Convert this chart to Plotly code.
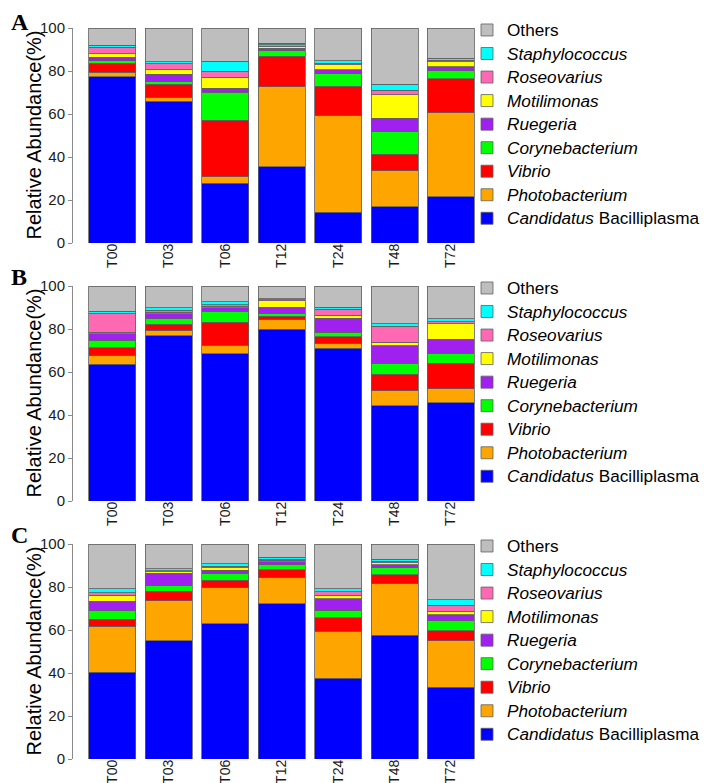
import plotly.graph_objects as go

samples = ["T00", "T03", "T06", "T12", "T24", "T48", "T72"]
y_ticks = [0, 20, 40, 60, 80, 100]

genera = ["Candidatus Bacilliplasma", "Photobacterium", "Vibrio", "Corynebacterium",
          "Ruegeria", "Motilimonas", "Roseovarius", "Staphylococcus", "Others"]
legend_labels = ["<i>Candidatus</i> Bacilliplasma", "<i>Photobacterium</i>", "<i>Vibrio</i>",
                 "<i>Corynebacterium</i>", "<i>Ruegeria</i>", "<i>Motilimonas</i>",
                 "<i>Roseovarius</i>", "<i>Staphylococcus</i>", "Others"]
colors = ["#0000FF", "#FFA500", "#FF0000", "#00FF00", "#A020F0",
          "#FFFF00", "#FF69B4", "#00FFFF", "#BEBEBE"]

# Panel A
candidatus_A = [77.4, 66.0, 27.8, 35.5, 14.4, 16.9, 21.4]
photobacterium_A = [2.0, 1.6, 3.0, 37.1, 44.8, 16.7, 39.2]
vibrio_A = [4.3, 6.2, 26.4, 14.2, 13.7, 7.7, 15.8]
corynebacterium_A = [1.1, 1.1, 12.9, 2.7, 5.9, 10.5, 3.7]
ruegeria_A = [1.7, 3.5, 1.9, 1.2, 1.8, 6.3, 1.8]
motilimonas_A = [1.5, 2.2, 5.1, 0.8, 2.3, 10.9, 2.3]
roseovarius_A = [3.0, 2.8, 2.7, 0.7, 0.8, 2.0, 0.9]
staphylococcus_A = [1.0, 0.8, 4.7, 0.8, 1.1, 2.8, 0.9]
others_A = [8.0, 15.8, 15.5, 7.0, 15.2, 26.2, 14.0]

# Panel B
candidatus_B = [63.7, 76.9, 68.5, 79.8, 71.0, 44.2, 45.6]
photobacterium_B = [3.9, 2.6, 3.9, 4.5, 2.2, 7.1, 6.6]
vibrio_B = [3.6, 2.7, 10.7, 1.7, 3.1, 7.6, 11.8]
corynebacterium_B = [3.5, 2.6, 5.1, 1.3, 2.1, 5.1, 4.7]
ruegeria_B = [3.0, 2.3, 1.6, 2.8, 6.7, 8.1, 6.6]
motilimonas_B = [0.7, 0.6, 0.7, 3.1, 1.2, 1.7, 7.2]
roseovarius_B = [8.6, 1.1, 0.8, 0.3, 3.0, 7.4, 0.8]
staphylococcus_B = [1.2, 1.0, 1.3, 0.5, 0.8, 1.3, 1.5]
others_B = [11.8, 10.2, 7.4, 6.0, 9.9, 17.5, 15.2]

# Panel C
candidatus_C = [40.3, 54.9, 62.9, 72.1, 37.5, 57.5, 33.3]
photobacterium_C = [21.4, 18.7, 16.8, 12.1, 21.9, 24.0, 21.7]
vibrio_C = [3.3, 4.5, 3.4, 3.8, 6.3, 4.2, 4.7]
corynebacterium_C = [4.0, 2.4, 3.1, 2.4, 3.5, 3.3, 4.6]
ruegeria_C = [4.3, 6.0, 1.7, 1.4, 5.4, 1.4, 2.8]
motilimonas_C = [2.8, 0.6, 1.1, 0.6, 1.5, 0.8, 1.6]
roseovarius_C = [1.3, 0.5, 0.6, 0.5, 1.6, 0.7, 2.8]
staphylococcus_C = [1.8, 0.8, 1.2, 0.9, 1.4, 1.0, 2.5]
others_C = [20.8, 11.6, 9.2, 6.2, 20.9, 7.1, 26.0]

panels = [
    ("A", [candidatus_A, photobacterium_A, vibrio_A, corynebacterium_A, ruegeria_A,
           motilimonas_A, roseovarius_A, staphylococcus_A, others_A]),
    ("B", [candidatus_B, photobacterium_B, vibrio_B, corynebacterium_B, ruegeria_B,
           motilimonas_B, roseovarius_B, staphylococcus_B, others_B]),
    ("C", [candidatus_C, photobacterium_C, vibrio_C, corynebacterium_C, ruegeria_C,
           motilimonas_C, roseovarius_C, staphylococcus_C, others_C]),
]

W, H = 709, 783
ML, MR, MT, MB = 65, 239, 20, 32
plot_h = H - MT - MB
plot_w = W - ML - MR

# panel pixel tops / bottoms (100% and 0% lines)
tops = [20, 278, 536]
bottoms = [235, 493, 751]
letter_top = [0.5, 255, 513]

def py(px):
    return (H - MB - px) / plot_h

def pxx(px):
    return (px - ML) / plot_w

FONT = "Liberation Sans, Arial, sans-serif"
fig = go.Figure()
legend_names = ["legend", "legend2", "legend3"]
axis_suffix = ["", "2", "3"]

for p, (letter, series) in enumerate(panels):
    for g, vals in enumerate(series):
        fig.add_trace(go.Bar(
            x=samples, y=vals,
            name='<span style="font-size:17.2px">' + legend_labels[g] + '</span>',
            marker=dict(color=colors[g], line=dict(color="#5f5f5f", width=0.8)),
            xaxis="x" + axis_suffix[p], yaxis="y" + axis_suffix[p],
            legend=legend_names[p], showlegend=True,
            hovertemplate=genera[g] + ": %{y}<extra></extra>",
        ))

layout = dict(
    width=W, height=H,
    margin=dict(l=ML, r=MR, t=MT, b=MB, autoexpand=False),
    barmode="stack", bargap=0.167,
    plot_bgcolor="white", paper_bgcolor="white",
    font=dict(family=FONT, color="black"),
    showlegend=True,
)

annotations = []
for p in range(3):
    s = axis_suffix[p]
    dom = [py(bottoms[p]), py(tops[p])]
    layout["xaxis" + s] = dict(
        domain=[0, 1], anchor="y" + s, type="category",
        range=[-0.70, 6.48], showline=False, ticks="", showgrid=False,
        tickangle=-90, tickfont=dict(size=14, family=FONT, color="#1a1a1a"),
        ticklabelstandoff=-3,
        fixedrange=True,
    )
    layout["yaxis" + s] = dict(
        domain=dom, anchor="x" + s, range=[0, 100], tickvals=y_ticks,
        showline=True, linecolor="#8a8a8a", linewidth=1,
        ticks="outside", ticklen=4, tickcolor="#8a8a8a",
        showgrid=False, zeroline=False,
        tickfont=dict(size=15, family=FONT, color="#1a1a1a"),
        fixedrange=True,
    )
    legend_top_px = tops[p] + 10 - 16.8 - 8
    layout[legend_names[p]] = dict(
        x=pxx(459), xanchor="left", y=py(legend_top_px), yanchor="top",
        traceorder="reversed", bgcolor="rgba(0,0,0,0)", borderwidth=0,
        font=dict(size=15.8, family=FONT, color="black"),
        itemclick=False, itemdoubleclick=False,
    )
    mid = (tops[p] + bottoms[p]) / 2
    annotations.append(dict(
        text="Relative Abundance(%)", textangle=-90,
        xref="paper", yref="paper", x=pxx(25), y=py(mid),
        xanchor="center", yanchor="middle", showarrow=False,
        font=dict(size=20, family=FONT, color="black"),
    ))
    annotations.append(dict(
        text="<b>" + panels[p][0] + "</b>",
        xref="paper", yref="paper", x=pxx(2), y=py(letter_top[p]),
        xanchor="left", yanchor="top", showarrow=False, borderpad=0,
        font=dict(size=24, family="Liberation Serif, Times New Roman, serif", color="black"),
    ))

layout["annotations"] = annotations
fig.update_layout(**layout)
fig.write_html("out.html")
